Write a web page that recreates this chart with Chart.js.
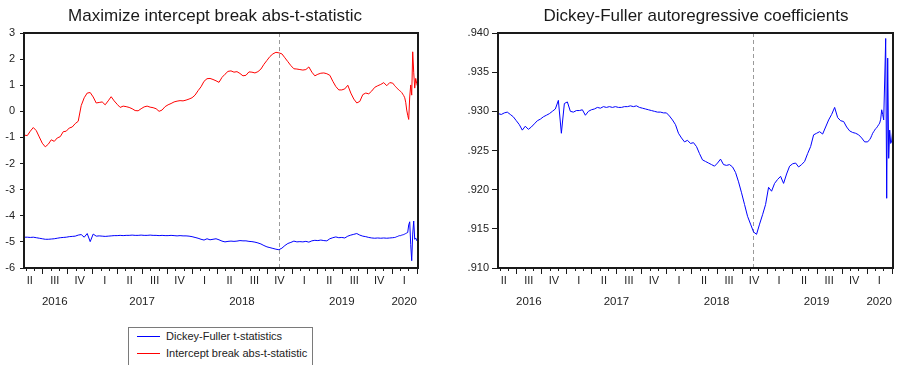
<!DOCTYPE html>
<html>
<head>
<meta charset="utf-8">
<script src="https://cdn.jsdelivr.net/npm/chart.js@4.4.1/dist/chart.umd.min.js"></script>
<style>
  html, body { margin: 0; padding: 0; background: #fff; }
  body { width: 899px; height: 365px; position: relative; overflow: hidden;
         font-family: "Liberation Sans", Arial, sans-serif; color: #222; }
  canvas { position: absolute; top: 0; }
  #legend { position: absolute; left: 128px; top: 327px; width: 185px; height: 50px;
            border: 1px solid #7a7a7a; box-sizing: border-box; }
  #legend .sw { position: absolute; left: 8px; width: 23px; height: 0; border-top: 1px solid; }
  #legend .tx { position: absolute; left: 37px; font-size: 11px; line-height: 12px; white-space: nowrap; color: #222; }
</style>
</head>
<body>
<canvas id="left" width="450" height="320" style="left:0"></canvas>
<canvas id="right" width="449" height="320" style="left:450px"></canvas>
<div id="legend">
  <div class="sw" style="top:8px;border-color:#0000ff"></div>
  <div class="tx" style="top:2px">Dickey-Fuller t-statistics</div>
  <div class="sw" style="top:25px;border-color:#ff0000"></div>
  <div class="tx" style="top:19px">Intercept break abs-t-statistic</div>
</div>
<script>
// Sample dates (decimal years), daily series thinned to a regular grid
const dates = [
  2016.32, 2016.35, 2016.38, 2016.41, 2016.44, 2016.47, 2016.50, 2016.53, 2016.56, 2016.59,
  2016.62, 2016.65, 2016.68, 2016.71, 2016.74, 2016.77, 2016.80, 2016.83, 2016.86, 2016.89,
  2016.92, 2016.95, 2016.98, 2017.01, 2017.04, 2017.07, 2017.10, 2017.13, 2017.16, 2017.19,
  2017.22, 2017.25, 2017.28, 2017.31, 2017.34, 2017.37, 2017.40, 2017.43, 2017.46, 2017.49,
  2017.52, 2017.55, 2017.58, 2017.61, 2017.64, 2017.67, 2017.70, 2017.73, 2017.76, 2017.79,
  2017.82, 2017.85, 2017.88, 2017.91, 2017.94, 2017.97, 2018.00, 2018.03, 2018.06, 2018.09,
  2018.12, 2018.15, 2018.18, 2018.21, 2018.24, 2018.27, 2018.30, 2018.33, 2018.36, 2018.39,
  2018.42, 2018.45, 2018.48, 2018.51, 2018.54, 2018.57, 2018.60, 2018.63, 2018.66, 2018.69,
  2018.72, 2018.75, 2018.78, 2018.81, 2018.84, 2018.87, 2018.90, 2018.93, 2018.96, 2018.99,
  2019.02, 2019.05, 2019.08, 2019.11, 2019.14, 2019.17, 2019.20, 2019.23, 2019.26, 2019.29,
  2019.32, 2019.35, 2019.38, 2019.41, 2019.44, 2019.47, 2019.50, 2019.53, 2019.56, 2019.59,
  2019.62, 2019.65, 2019.68, 2019.71, 2019.74, 2019.77, 2019.80, 2019.83, 2019.86, 2019.89,
  2019.92, 2019.95, 2019.98, 2020.01,
  2020.03, 2020.04, 2020.05, 2020.06, 2020.07, 2020.08, 2020.09, 2020.10, 2020.11, 2020.12,
  2020.13, 2020.14, 2020.15, 2020.16, 2020.17, 2020.18, 2020.19, 2020.20, 2020.21, 2020.22,
  2020.23, 2020.24, 2020.25, 2020.26
];

// Dickey-Fuller t-statistics
const dfTStat = [
  -4.82, -4.82, -4.83, -4.82, -4.84, -4.86, -4.88, -4.90, -4.90, -4.89,
  -4.88, -4.86, -4.84, -4.83, -4.82, -4.80, -4.79, -4.78, -4.74, -4.72,
  -4.82, -4.68, -4.99, -4.70, -4.78, -4.77, -4.78, -4.79, -4.78, -4.77,
  -4.76, -4.76, -4.75, -4.76, -4.75, -4.75, -4.74, -4.75, -4.75, -4.74,
  -4.75, -4.75, -4.74, -4.75, -4.75, -4.76, -4.75, -4.76, -4.76, -4.75,
  -4.76, -4.77, -4.76, -4.77, -4.77, -4.78, -4.80, -4.83, -4.86, -4.90,
  -4.93, -4.88, -4.92, -4.90, -4.88, -4.92, -4.97, -5.00, -4.98, -4.97,
  -4.98, -4.97, -4.95, -4.96, -4.96, -4.98, -4.99, -5.01, -5.04, -5.08,
  -5.14, -5.19, -5.22, -5.25, -5.28, -5.30, -5.24, -5.14, -5.06, -5.02,
  -4.97, -5.00, -4.99, -5.00, -4.98, -5.01, -4.96, -4.94, -4.95, -4.93,
  -4.95, -4.96, -4.88, -4.84, -4.81, -4.84, -4.83, -4.85, -4.78, -4.74,
  -4.71, -4.68, -4.74, -4.78, -4.80, -4.83, -4.85, -4.86, -4.85, -4.86,
  -4.85, -4.86, -4.85, -4.84,
  -4.83, -4.82, -4.80, -4.79, -4.77, -4.76, -4.76, -4.74, -4.73, -4.72,
  -4.70, -4.68, -4.66, -4.64, -4.35, -4.23, -5.10, -5.72, -4.70, -4.20,
  -4.90, -4.85, -4.95, -4.88
];

// Intercept break abs-t-statistic
const breakTStat = [
  -0.91, -0.93, -0.76, -0.62, -0.74, -0.98, -1.22, -1.36, -1.26, -1.09,
  -1.15, -1.02, -0.97, -0.78, -0.76, -0.64, -0.60, -0.47, -0.38, 0.22,
  0.52, 0.70, 0.72, 0.55, 0.32, 0.34, 0.36, 0.25, 0.40, 0.56,
  0.40, 0.27, 0.15, 0.20, 0.18, 0.15, 0.10, 0.03, 0.02, 0.10,
  0.17, 0.20, 0.16, 0.14, 0.10, 0.00, 0.05, 0.18, 0.25, 0.30,
  0.36, 0.39, 0.41, 0.40, 0.43, 0.47, 0.52, 0.62, 0.79, 0.94,
  1.15, 1.25, 1.26, 1.22, 1.17, 1.11, 1.30, 1.42, 1.53, 1.55,
  1.50, 1.52, 1.45, 1.36, 1.38, 1.51, 1.50, 1.47, 1.52, 1.62,
  1.80, 1.95, 2.10, 2.20, 2.26, 2.24, 2.20, 2.05, 1.90, 1.75,
  1.63, 1.62, 1.60, 1.58, 1.60, 1.70, 1.50, 1.36, 1.42, 1.46,
  1.47, 1.44, 1.38, 1.15, 0.95, 0.82, 0.82, 0.86, 1.00, 0.70,
  0.47, 0.32, 0.38, 0.64, 0.70, 0.67, 0.78, 0.92, 0.98, 1.03,
  1.10, 0.98, 1.10, 1.08,
  0.98, 0.94, 0.90, 0.86, 0.82, 0.79, 0.76, 0.72, 0.66, 0.60,
  0.52, 0.35, 0.05, -0.15, -0.31, 0.55, 1.01, 0.62, 2.28, 1.50,
  0.89, 1.26, 1.07, 0.94
];

// Dickey-Fuller autoregressive coefficients
const arCoef = [
  0.9297, 0.9296, 0.9298, 0.9299, 0.9296, 0.9293, 0.9288, 0.9283, 0.9276, 0.9281,
  0.9277, 0.9280, 0.9284, 0.9288, 0.9290, 0.9293, 0.9295, 0.9297, 0.9300, 0.9303,
  0.9314, 0.9272, 0.9310, 0.9312, 0.9300, 0.9299, 0.9301, 0.9301, 0.9302, 0.9295,
  0.9300, 0.9302, 0.9303, 0.9305, 0.9304, 0.9306, 0.9305, 0.9306, 0.9305, 0.9306,
  0.9305, 0.9305, 0.9306, 0.9306, 0.9307, 0.9306, 0.9307, 0.9305, 0.9304, 0.9303,
  0.9302, 0.9301, 0.9300, 0.9299, 0.9299, 0.9298, 0.9298, 0.9294, 0.9289, 0.9283,
  0.9272, 0.9266, 0.9261, 0.9263, 0.9259, 0.9260, 0.9255, 0.9246, 0.9238, 0.9236,
  0.9234, 0.9232, 0.9230, 0.9234, 0.9239, 0.9232, 0.9231, 0.9232, 0.9229, 0.9222,
  0.9210, 0.9196, 0.9181, 0.9166, 0.9156, 0.9146, 0.9143, 0.9156, 0.9168, 0.9181,
  0.9203, 0.9198, 0.9208, 0.9213, 0.9217, 0.9208, 0.9220, 0.9230, 0.9233, 0.9234,
  0.9229, 0.9232, 0.9236, 0.9246, 0.9255, 0.9270, 0.9272, 0.9274, 0.9271, 0.9280,
  0.9289, 0.9296, 0.9305, 0.9292, 0.9288, 0.9287, 0.9280, 0.9275, 0.9273, 0.9272,
  0.9270, 0.9266, 0.9261, 0.9261,
  0.9264, 0.9266, 0.9269, 0.9272, 0.9274, 0.9276, 0.9278, 0.9279, 0.9281, 0.9283,
  0.9285, 0.9290, 0.9302, 0.9296, 0.9289, 0.9340, 0.9393, 0.9189, 0.9368, 0.9240,
  0.9276, 0.9259, 0.9262, 0.9276
];

const leftTicks = [3, 2, 1, 0, -1, -2, -3, -4, -5, -6];
const rightTicks = [0.940, 0.935, 0.930, 0.925, 0.920, 0.915, 0.910];
const quarterNames = ['I', 'II', 'III', 'IV'];
const yearNames = ['2016', '2017', '2018', '2019', '2020'];
const sampleStart = 2016.317;
const sampleEnd = 2020.263;
const breakDate = 2018.866;

const FONT = '"Liberation Sans", Arial, sans-serif';
const toPoints = vals => dates.map((d, i) => ({ x: d, y: vals[i] }));

// Frame, break marker, title and the quarter/year time axis
const panelDecor = {
  id: 'panelDecor',
  beforeDatasetsDraw(chart) {
    const { ctx, chartArea: a } = chart;
    const px = Math.round(chart.scales.x.getPixelForValue(breakDate)) + 0.5;
    ctx.save();
    ctx.strokeStyle = '#9a9a9a';
    ctx.lineWidth = 1;
    ctx.setLineDash([4, 3]);
    ctx.beginPath();
    ctx.moveTo(px, a.top);
    ctx.lineTo(px, a.bottom);
    ctx.stroke();
    ctx.restore();
  },
  afterDraw(chart, args, opts) {
    const { ctx, chartArea: a } = chart;
    const xs = chart.scales.x;
    ctx.save();
    // plot frame
    ctx.strokeStyle = '#1a1a1a';
    ctx.lineWidth = 2;
    ctx.strokeRect(a.left, a.top, a.right - a.left, a.bottom - a.top);

    // month and quarter tick marks
    ctx.lineWidth = 1;
    for (let y = 2016; y <= 2020; y++) {
      for (let m = 0; m < 12; m++) {
        const v = y + m / 12;
        if (v <= sampleStart || v >= sampleEnd) continue;
        const p = Math.round(xs.getPixelForValue(v)) + 0.5;
        const len = (m % 3 === 0) ? 6 : 3;
        ctx.beginPath();
        ctx.moveTo(p, a.bottom);
        ctx.lineTo(p, a.bottom + len);
        ctx.stroke();
      }
    }

    // quarter labels, only for quarters whose midpoint falls inside the sample
    ctx.fillStyle = '#222';
    ctx.textAlign = 'center';
    ctx.textBaseline = 'middle';
    ctx.font = '11px ' + FONT;
    const yearSpan = {};
    for (let y = 2016; y <= 2020; y++) {
      for (let q = 0; q < 4; q++) {
        const q0 = y + q / 4, mid = q0 + 0.125;
        if (mid < sampleStart || mid > sampleEnd) continue;
        ctx.fillText(quarterNames[q], xs.getPixelForValue(mid), 281);
        if (!yearSpan[y]) yearSpan[y] = [q0, q0 + 0.25];
        yearSpan[y][1] = q0 + 0.25;
      }
    }
    // year labels, centred under the quarters shown for that year
    ctx.font = '11.5px ' + FONT;
    yearNames.forEach(name => {
      const s = yearSpan[+name];
      if (!s) return;
      ctx.fillText(name, xs.getPixelForValue((s[0] + s[1]) / 2), 302);
    });

    // title
    ctx.font = '17px ' + FONT;
    ctx.fillStyle = '#1a1a1a';
    ctx.fillText(opts.title, opts.titleX, 16);
    ctx.restore();
  }
};

function makeChart(id, datasets, yMin, yMax, ticks, fmt, axisWidth, padRight, tickLen, tickPad, title, titleX) {
  return new Chart(document.getElementById(id), {
    type: 'line',
    data: { datasets },
    options: {
      responsive: false,
      animation: false,
      devicePixelRatio: 1,
      parsing: false,
      layout: { padding: { left: 0, top: 33, right: padRight, bottom: 52 } },
      elements: { point: { radius: 0 }, line: { borderWidth: 1, tension: 0 } },
      plugins: {
        legend: { display: false },
        tooltip: { enabled: false },
        panelDecor: { title, titleX }
      },
      scales: {
        x: { type: 'linear', min: sampleStart, max: sampleEnd, display: false },
        y: {
          type: 'linear', min: yMin, max: yMax,
          afterBuildTicks: s => { s.ticks = ticks.map(v => ({ value: v })); },
          afterFit: s => { s.width = axisWidth; },
          border: { display: false },
          grid: { drawOnChartArea: false, drawTicks: true, tickLength: tickLen, color: '#1a1a1a' },
          ticks: { color: '#222', padding: tickPad, font: { family: FONT, size: 11 }, callback: fmt }
        }
      }
    },
    plugins: [panelDecor]
  });
}

makeChart('left', [
  { data: toPoints(dfTStat), borderColor: '#0000ff' },
  { data: toPoints(breakTStat), borderColor: '#ff0000' }
], -6, 3, leftTicks, v => String(v), 24, 32, 4, 5,
  'Maximize intercept break abs-t-statistic', 215);

makeChart('right', [
  { data: toPoints(arCoef), borderColor: '#0000ff' }
], 0.910, 0.940, rightTicks, v => v.toFixed(3).replace(/^0/, ''), 48, 6, 6, 3,
  'Dickey-Fuller autoregressive coefficients', 246);
</script>
</body>
</html>
